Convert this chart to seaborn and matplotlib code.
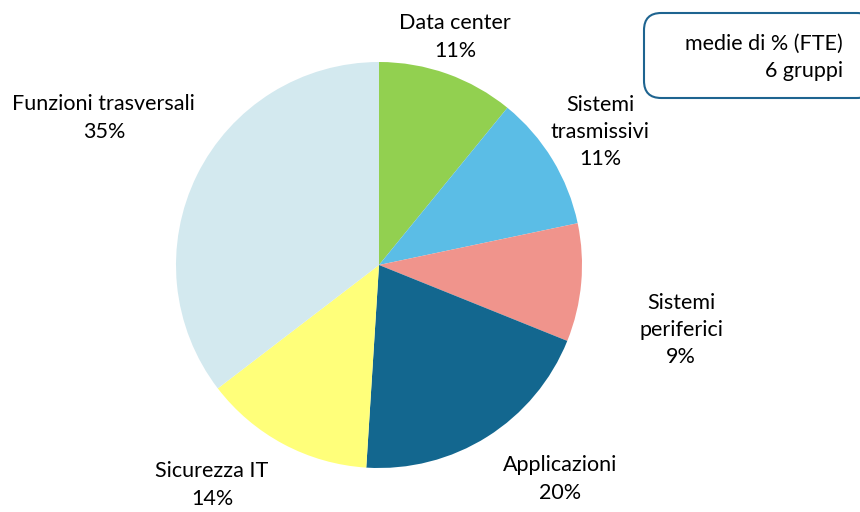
import matplotlib
matplotlib.use("Agg")
import matplotlib.pyplot as plt
import seaborn as sns
from matplotlib.patches import FancyBboxPatch

categories = ["Data center", "Sistemi\ntrasmissivi", "Sistemi\nperiferici",
              "Applicazioni", "Sicurezza IT", "Funzioni trasversali"]
values = [10.9, 10.8, 9.4, 19.9, 13.6, 35.4]
pct_labels = ["11%", "11%", "9%", "20%", "14%", "35%"]
box_lines = ["medie di % (FTE)", "6 gruppi"]

colors = ["#92D050", "#5BBDE6", "#F0948C", "#13678F", "#FFFF7A", "#D3E9EF"]
label_pos = [(0.374, 1.123), (1.089, 0.655), (1.488, -0.320),
             (0.892, -1.054), (-0.823, -1.084), (-1.355, 0.724)]

sns.set_theme(style="white")
plt.rcParams['font.family'] = ['Lato', 'DejaVu Sans']

W, H = 860, 512
cx, cy, R = 379, 265, 203
fig = plt.figure(figsize=(W / 100, H / 100), dpi=100)
ax = fig.add_axes([0, 0, 1, 1])
ax.pie(values, colors=colors, startangle=90, counterclock=False, radius=1,
       wedgeprops=dict(linewidth=0))
ax.set_aspect('auto')
ax.set_xlim(-cx / R, (W - cx) / R)
ax.set_ylim(-(H - cy) / R, cy / R)
ax.axis('off')

for cat, pct, (x, y) in zip(categories, pct_labels, label_pos):
    ax.text(x, y, f"{cat}\n{pct}", ha='center', va='center', fontsize=15.5,
            color='#000000', linespacing=1.45)

box = FancyBboxPatch((644 / W, 1 - 98 / H), 230 / W, 85 / H,
                     boxstyle="round,pad=0,rounding_size=0.02",
                     transform=fig.transFigure, facecolor='white',
                     edgecolor='#1E6490', linewidth=1.5, mutation_aspect=W / H)
fig.patches.append(box)
fig.text(843 / W, 1 - 57 / H, "\n".join(box_lines), ha='right', va='center',
         fontsize=15.5, color='#000000', linespacing=1.45)

fig.savefig("out.png", dpi=100)
